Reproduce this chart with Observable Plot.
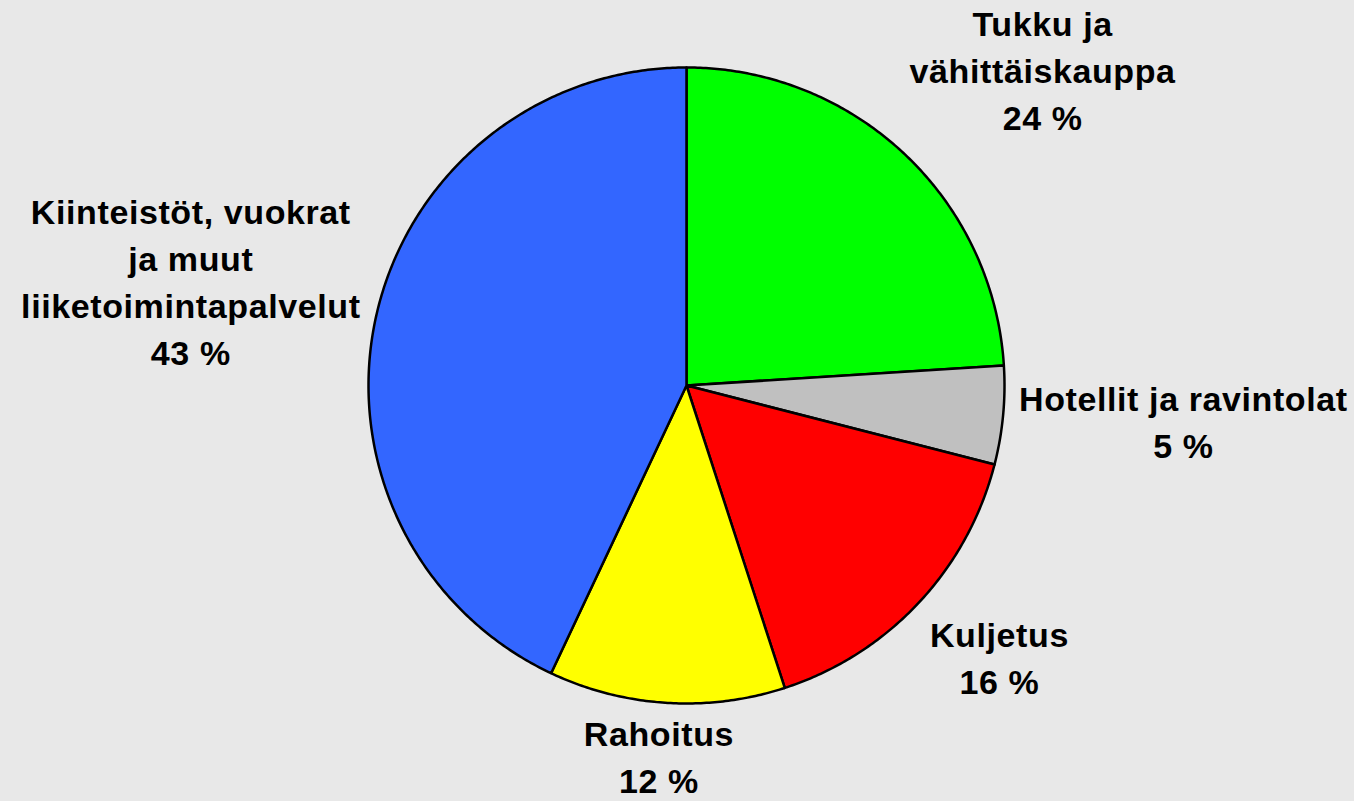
<!DOCTYPE html>
<html>
<head>
<meta charset="utf-8">
<script src="https://cdn.jsdelivr.net/npm/d3@7"></script>
<script src="https://cdn.jsdelivr.net/npm/@observablehq/plot@0.6"></script>
<style>
  html, body { margin: 0; padding: 0; background: #e8e8e8; }
  #chart svg { display: block; background: #e8e8e8; }
  #chart svg text { letter-spacing: 0.6px; }
</style>
</head>
<body>
<div id="chart"></div>
<script>
// Data (clockwise from 12 o'clock)
const categories = ["Tukku ja\nvähittäiskauppa", "Hotellit ja ravintolat", "Kuljetus", "Rahoitus", "Kiinteistöt, vuokrat\nja muut\nliiketoimintapalvelut"];
const keys = ["Tukku", "Hotellit", "Kuljetus", "Rahoitus", "Kiinteistöt"];
const values = [24, 5, 16, 12, 43];
const colors = ["#00ff00", "#c0c0c0", "#ff0000", "#ffff00", "#3366ff"];

// Layout
const W = 1354, H = 801;
const cx = 686, cy = 385, R = 318;
const fontSize = 34, lineH = 47, labelGap = 16, letterSp = 0.6, nudgeY = -4;
const font = `bold ${fontSize}px 'Liberation Sans', Arial, sans-serif`;

const total = d3.sum(values);
const pie = d3.pie().sort(null).value(d => d)(values);

// Build slice outlines in unit-radius data space
const slicePts = [];
pie.forEach((p, i) => {
  slicePts.push({key: keys[i], x: 0, y: 0});
  const n = Math.max(2, Math.ceil((p.endAngle - p.startAngle) / (Math.PI / 360)));
  for (let k = 0; k <= n; k++) {
    const a = p.startAngle + (p.endAngle - p.startAngle) * k / n;
    slicePts.push({key: keys[i], x: Math.sin(a), y: Math.cos(a)});
  }
});

// Label placement (outside end, Excel-like), kept inside the frame
const ctx = document.createElement("canvas").getContext("2d");
ctx.font = font;
const clamp = v => Math.max(-1, Math.min(1, v));
const labels = pie.map((p, i) => {
  const text = `${categories[i]}\n${Math.round(values[i] / total * 100)} %`;
  const lines = text.split("\n");
  const bw = d3.max(lines, l => ctx.measureText(l).width + l.length * letterSp);
  const bh = lines.length * lineH;
  const a = (p.startAngle + p.endAngle) / 2;
  const ax = Math.sin(a) * (R + labelGap);
  const ay = -Math.cos(a) * (R + labelGap);
  let px = ax + clamp(Math.sin(a) * 1.4) * bw / 2;
  let py = ay + clamp(-Math.cos(a) * 1.4) * bh / 2 + nudgeY;
  px = Math.min(px, (W - cx) - bw / 2 - 4);
  py = Math.min(py, (H - cy) - bh / 2);
  return {text, x: px / R, y: -py / R};
});

const chart = Plot.plot({
  width: W,
  height: H,
  margin: 0,
  style: {background: "#e8e8e8"},
  x: {domain: [-cx / R, (W - cx) / R], axis: null},
  y: {domain: [-(H - cy) / R, cy / R], axis: null},
  color: {domain: keys, range: colors},
  marks: [
    Plot.line(slicePts, {
      x: "x", y: "y", z: "key", fill: "key",
      stroke: "black", strokeWidth: 2.5, strokeLinejoin: "round",
      curve: "linear-closed"
    }),
    Plot.text(labels, {
      x: "x", y: "y", text: "text",
      textAnchor: "middle", lineAnchor: "middle", lineHeight: lineH / fontSize,
      fontSize, fontWeight: "bold",
      fontFamily: "'Liberation Sans', Arial, sans-serif",
      fill: "black"
    })
  ]
});
document.getElementById("chart").append(chart);
</script>
</body>
</html>
